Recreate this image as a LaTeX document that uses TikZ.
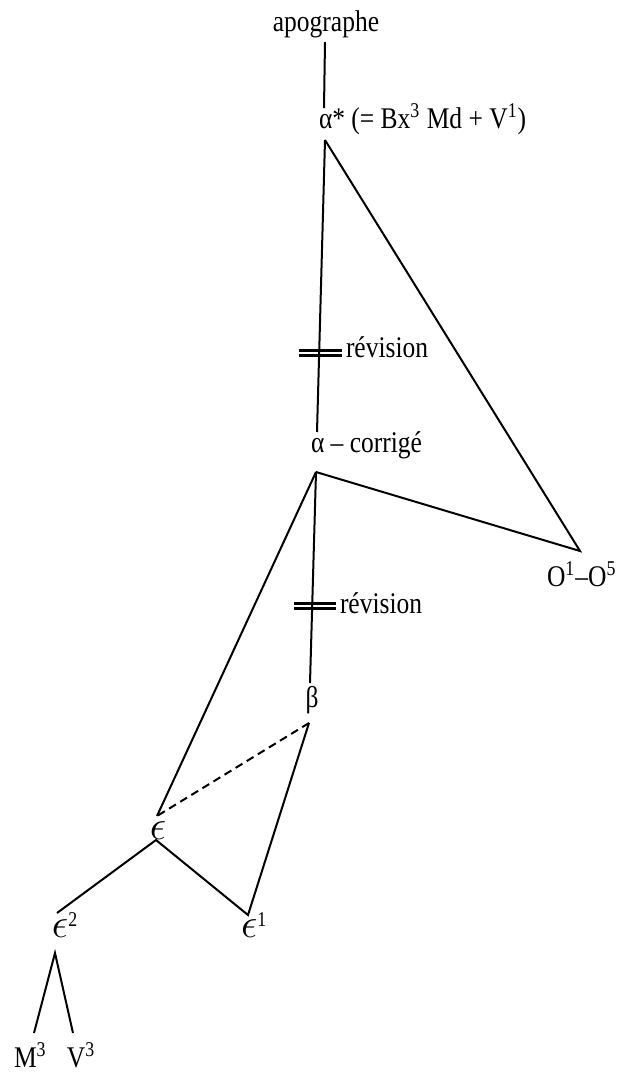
\documentclass[tikz,border=0pt]{standalone}
\usepackage{fontspec}
\setmainfont[FakeStretch=0.85]{Liberation Serif}
\usetikzlibrary{calc}
\newcommand{\epsglyph}{{\fontsize{20}{22}\selectfont$\epsilon$}}

\begin{document}
\begin{tikzpicture}[x=0.5pt, y=-0.5pt, line width=1pt,
  lbl/.style={inner sep=0pt, font=\fontsize{15}{18}\selectfont}]
  \useasboundingbox (0,0) rectangle (625,1073);
  % witnesses
  \node[lbl] (apo) at (326,24) {apographe};
  \node[lbl, anchor=base west] (astar) at (318,128) {α* (= Bx\textsuperscript{3} Md + V\textsuperscript{1})};
  \node[lbl, anchor=base west] (acor) at (310,452) {α – corrigé};
  \node[lbl, anchor=base west] (oms) at (546,586) {O\textsuperscript{1}–O\textsuperscript{5}};
  \node[lbl] (beta) at (312,700) {β};
  \node[lbl] (eps) at (158,831) {\epsglyph};
  \node[lbl, anchor=base west] (epsone) at (240,937) {\epsglyph\textsuperscript{1}};
  \node[lbl, anchor=base west] (epstwo) at (51,937) {\epsglyph\textsuperscript{2}};
  \node[lbl, anchor=base west] (mthree) at (13,1067) {M\textsuperscript{3}};
  \node[lbl, anchor=base west] (vthree) at (66,1067) {V\textsuperscript{3}};
  % line ends
  \coordinate (apoS) at (325,42);
  \coordinate (astarN) at (324,108);
  \coordinate (astarS) at (325,140);
  \coordinate (acorN) at (317,432);
  \coordinate (acorS) at (316,472);
  \coordinate (omsN) at (580,551);
  \coordinate (betaN) at (310,683);
  \coordinate (betaS) at (309,723);
  \coordinate (epsN) at (157,816);
  \coordinate (epsS) at (156,840);
  \coordinate (epsoneN) at (248,915);
  \coordinate (epstwoN) at (57,913);
  \coordinate (epstwoS) at (55,953);
  \coordinate (mthreeN) at (34,1033);
  \coordinate (vthreeN) at (73,1033);
  % stemma
  \draw (apoS) -- (astarN);
  \draw (astarS) -- (acorN);
  \draw (astarS) -- (omsN) -- (acorS);
  \draw (acorS) -- (betaN);
  \draw (acorS) -- (epsN);
  \draw[dashed, dash pattern=on 4pt off 2.5pt] (betaS) -- (epsN);
  \draw (betaS) -- (epsoneN) -- (epsS) -- (epstwoN);
  \draw (mthreeN) -- (epstwoS) -- (vthreeN);
  % revision marks
  \draw[line width=1.3pt] (299,350.5) -- (342,350.5) (299,355.5) -- (342,355.5);
  \node[lbl, anchor=base west] (revone) at (345,357) {révision};
  \draw[line width=1.3pt] (294,603.5) -- (336,603.5) (294,608.5) -- (336,608.5);
  \node[lbl, anchor=base west] (revtwo) at (339,613) {révision};
\end{tikzpicture}
\end{document}
